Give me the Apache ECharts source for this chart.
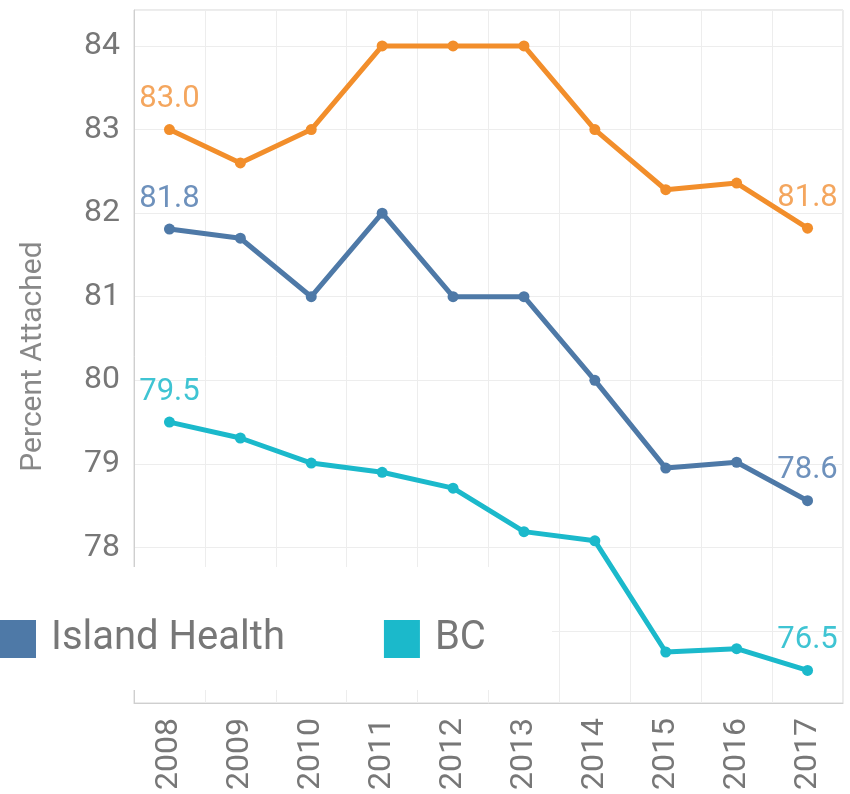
<!DOCTYPE html>
<html>
<head>
<meta charset="utf-8">
<script src="https://cdn.jsdelivr.net/npm/echarts@6/dist/echarts.min.js"></script>
<style>
  html, body { margin: 0; padding: 0; background: #fff; }
  #chart { width: 850px; height: 794px; }
</style>
</head>
<body>
<div id="chart"></div>
<script>
const years = ['2008', '2009', '2010', '2011', '2012', '2013', '2014', '2015', '2016', '2017']
const otherValues = [83.0, 82.6, 83.0, 84.0, 84.0, 84.0, 83.0, 82.28, 82.36, 81.82]
const islandHealthValues = [81.81, 81.7, 81.0, 82.0, 81.0, 81.0, 80.0, 78.95, 79.02, 78.56]
const bcValues = [79.5, 79.31, 79.01, 78.9, 78.71, 78.19, 78.08, 76.75, 76.79, 76.53]

const fontFamily = 'Roboto, "Open Sans", sans-serif'
const lastIndex = years.length - 1

function endLabels(color) {
  return {
    show: true,
    position: 'top',
    distance: 9,
    color: color,
    fontFamily: fontFamily,
    fontSize: 31,
    formatter: (p) => (p.dataIndex === 0 || p.dataIndex === lastIndex) ? p.value.toFixed(1) : ''
  }
}

function makeSeries(name, values, color, labelColor) {
  return {
    name: name,
    type: 'line',
    data: values,
    symbol: 'circle',
    symbolSize: 11,
    lineStyle: { width: 5, color: color },
    itemStyle: { color: color },
    label: endLabels(labelColor),
    z: 3
  }
}

const chart = echarts.init(document.getElementById('chart'))

chart.setOption({
  animation: false,
  backgroundColor: '#fff',
  grid: {
    left: 134,
    right: 7,
    top: 10,
    bottom: 91,
    show: true,
    borderColor: '#d6d6d6',
    borderWidth: 1
  },
  // white panel behind the legend, it hides the lower left part of the plot
  graphic: [
    {
      type: 'rect',
      left: 0,
      top: 567,
      z: 9,
      shape: { width: 552, height: 123 },
      style: { fill: '#fff' }
    }
  ],
  legend: {
    data: ['Island Health', 'BC'],
    left: 0,
    top: 567,
    padding: [52, 0, 31, 0],
    itemWidth: 36,
    itemHeight: 38,
    itemGap: 99,
    icon: 'rect',
    z: 10,
    textStyle: {
      fontFamily: fontFamily,
      fontSize: 40,
      color: '#777',
      padding: [0, 0, 0, 10]
    }
  },
  xAxis: {
    type: 'category',
    data: years,
    axisLine: { lineStyle: { color: '#cfcfcf', width: 1 } },
    axisTick: { show: false },
    splitLine: { show: true, lineStyle: { color: '#ededed' } },
    axisLabel: {
      rotate: 90,
      margin: 15,
      color: '#777',
      fontFamily: fontFamily,
      fontSize: 32
    }
  },
  yAxis: {
    type: 'value',
    min: 76.14,
    max: 84.43,
    splitNumber: 8,
    name: 'Percent Attached',
    nameLocation: 'middle',
    nameGap: 86,
    nameTextStyle: {
      color: '#888',
      fontFamily: fontFamily,
      fontSize: 30
    },
    axisLine: { show: true, lineStyle: { color: '#cfcfcf', width: 1 } },
    axisTick: { show: false },
    splitLine: { show: true, lineStyle: { color: '#ededed' } },
    axisLabel: {
      showMinLabel: false,
      showMaxLabel: false,
      margin: 14,
      color: '#777',
      fontFamily: fontFamily,
      fontSize: 32
    }
  },
  series: [
    makeSeries('Other', otherValues, '#F28E2B', '#F4A65E'),
    makeSeries('Island Health', islandHealthValues, '#4E79A7', '#6E91BC'),
    makeSeries('BC', bcValues, '#1BB9CB', '#3FC4D3')
  ]
})
</script>
</body>
</html>
